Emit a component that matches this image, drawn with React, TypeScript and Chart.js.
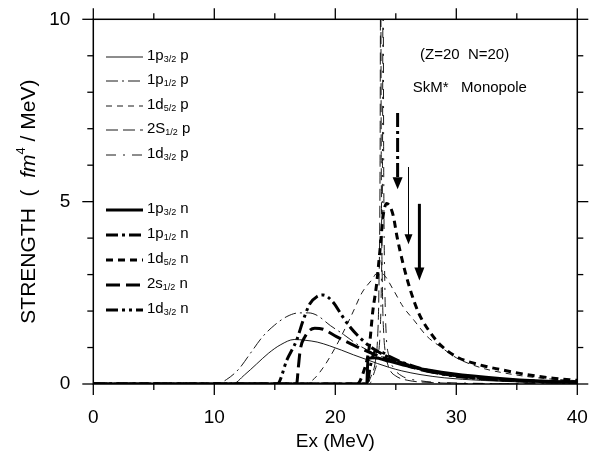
import { useEffect, useRef } from 'react';
import { Chart, registerables } from 'chart.js';

Chart.register(...registerables);

const FONT = '"Liberation Sans", Arial, Helvetica, sans-serif';

// ---- axes ----
const xLimits = [0, 40];
const yLimits = [0, 10];
const xMajorTicks = [0, 10, 20, 30, 40];
const xMinorTicks = [5, 15, 25, 35];
const yMajorTicks = [0, 5, 10];
const yMinorTicks = [1, 2, 3, 4, 6, 7, 8, 9];
const xTitle = 'Ex (MeV)';

// ---- proton strengths (thin lines) ----
const p1p32X = [0, 11.5, 12.5, 13.5, 14.5, 15.5, 16.6, 17.5, 18.5, 19.5, 20.5, 21.5, 22.5, 23.5, 24.5, 25.5, 27, 29, 32, 36, 40];
const p1p32Y = [0, 0, 0.25, 0.55, 0.85, 1.08, 1.22, 1.2, 1.15, 1.05, 0.93, 0.8, 0.68, 0.56, 0.45, 0.36, 0.26, 0.17, 0.1, 0.05, 0.03];

const p1p12X = [0, 10.2, 11, 12, 13, 14, 15, 16, 17, 17.8, 18.5, 19.6, 20.5, 22, 23.5, 24.8, 26, 27.5, 29, 31, 34, 37, 40];
const p1p12Y = [0, 0, 0.12, 0.4, 0.85, 1.3, 1.62, 1.85, 1.95, 1.95, 1.88, 1.6, 1.4, 1.05, 0.8, 0.62, 0.48, 0.35, 0.25, 0.16, 0.09, 0.05, 0.03];

const p1d52X = [0, 17.3, 18.1, 19, 20, 21, 21.5, 22.2, 23, 23.5, 24, 24.8, 25.6, 26.5, 27.6, 28.7, 30, 32, 34, 37, 40];
const p1d52Y = [0, 0, 0.1, 0.45, 1.0, 1.65, 2.0, 2.5, 2.85, 3.05, 3.0, 2.58, 2.12, 1.75, 1.3, 1.02, 0.72, 0.45, 0.3, 0.16, 0.09];

const p2s12X = [0, 22.6, 23.0, 23.3, 23.5, 23.6, 23.7, 23.75, 23.8, 23.9, 24.0, 24.2, 24.5, 25, 26, 28, 32, 40];
const p2s12Y = [0, 0, 0.25, 0.6, 1.3, 2.5, 6, 12, 6, 2.5, 1.4, 0.75, 0.4, 0.22, 0.1, 0.04, 0.01, 0];

const p1d32X = [0, 22.8, 23.2, 23.5, 23.7, 23.8, 23.9, 23.95, 24.0, 24.1, 24.2, 24.4, 24.8, 25.5, 27, 30, 40];
const p1d32Y = [0, 0, 0.3, 0.7, 1.4, 2.6, 6, 12, 6, 2.6, 1.4, 0.8, 0.45, 0.22, 0.09, 0.03, 0];

// ---- neutron strengths (thick lines) ----
const n1p32X = [0, 22.6, 22.7, 23.2, 24.5, 26.4, 29.7, 33.6, 37, 40];
const n1p32Y = [0, 0, 0.7, 0.72, 0.62, 0.46, 0.28, 0.15, 0.08, 0.05];

const n1p12X = [0, 22.6, 22.9, 23.3, 23.8, 24.5, 25.5, 27, 29, 32, 36, 40];
const n1p12Y = [0, 0, 0.5, 0.9, 0.88, 0.75, 0.6, 0.43, 0.28, 0.16, 0.08, 0.04];

const n1d52X = [0, 21.8, 22.3, 22.8, 23.1, 23.4, 23.7, 23.95, 24.25, 24.55, 24.8, 25.1, 25.6, 26.2, 26.9, 27.7, 28.7, 30.0, 32.0, 33.6, 35.8, 38.0, 40];
const n1d52Y = [0, 0, 0.3, 1.0, 2.0, 2.7, 3.7, 4.6, 4.95, 4.85, 4.6, 4.04, 3.3, 2.58, 1.94, 1.48, 1.07, 0.75, 0.52, 0.4, 0.26, 0.16, 0.1];

const n2s12X = [0, 16.8, 16.95, 17.1, 17.5, 18.3, 19.0, 20.1, 21.8, 23.7, 25.1, 27.0, 30.3, 35, 40];
const n2s12Y = [0, 0, 0.47, 0.93, 1.3, 1.53, 1.5, 1.3, 1.02, 0.75, 0.61, 0.4, 0.22, 0.1, 0.05];

const n1d32X = [0, 15.2, 16.0, 16.8, 17.35, 17.9, 18.5, 19.0, 19.8, 20.5, 21.2, 22.0, 22.9, 24.0, 25.6, 27.6, 30.3, 34.4, 40];
const n1d32Y = [0, 0, 0.66, 1.2, 1.75, 2.2, 2.4, 2.44, 2.25, 1.9, 1.57, 1.28, 1.02, 0.8, 0.57, 0.36, 0.2, 0.1, 0.04];

// ---- legend labels ----
const legendMain = ['1p', '1p', '1d', '2S', '1d', '1p', '1p', '1d', '2s', '1d'];
const legendSub = ['3/2', '1/2', '5/2', '1/2', '3/2', '3/2', '1/2', '5/2', '1/2', '3/2'];
const legendTail = ['p', 'p', 'p', 'p', 'p', 'n', 'n', 'n', 'n', 'n'];

// ---- arrows (centroid energies) ----
const arrowX = [25.15, 26.05, 26.95];
const arrowFrom = [7.43, 5.95, 4.94];
const arrowTo = [5.34, 3.83, 2.84];

// ---- annotations ----
const noteText = ['(Z=20  N=20)', 'SkM*   Monopole'];
const noteX = [27.0, 26.4];
const noteY = [9.02, 8.12];

// ---- styles ----
const THIN = 0.9;
const THICK = 3;
const seriesX = [p1p32X, p1p12X, p1d52X, p2s12X, p1d32X, n1p32X, n1p12X, n1d52X, n2s12X, n1d32X];
const seriesY = [p1p32Y, p1p12Y, p1d52Y, p2s12Y, p1d32Y, n1p32Y, n1p12Y, n1d52Y, n2s12Y, n1d32Y];
const seriesWidth = [THIN, THIN, THIN, THIN, THIN, THICK, THICK, THICK, THICK, THICK];
const seriesDash = [
  [],
  [12, 4, 2, 4],
  [6, 5],
  [12, 5],
  [10, 7, 2, 7],
  [],
  [12, 4, 3, 4],
  [7, 5],
  [14, 6],
  [12, 4, 3, 4, 3, 4],
];
const arrowWidth = [THICK, 1, THICK];
const arrowDash = [[14, 4, 3, 4], [], []];
const arrowHead = [[10, 12], [8, 10], [10, 13]];

const legendRows = [57, 81, 106, 130, 155, 210, 235, 260, 285, 310];

const legendPlugin = {
  id: 'customLegend',
  afterDatasetsDraw(chart: any) {
    const ctx = chart.ctx;
    ctx.save();
    legendRows.forEach((ry, i) => {
      ctx.strokeStyle = '#000';
      ctx.lineWidth = seriesWidth[i];
      ctx.setLineDash(seriesDash[i]);
      ctx.beginPath();
      ctx.moveTo(106, ry);
      ctx.lineTo(143, ry);
      ctx.stroke();
      ctx.setLineDash([]);
      ctx.fillStyle = '#000';
      ctx.textBaseline = 'alphabetic';
      ctx.textAlign = 'left';
      let x = 147;
      ctx.font = `15px ${FONT}`;
      ctx.fillText(legendMain[i], x, ry + 3);
      x += ctx.measureText(legendMain[i]).width;
      ctx.font = `9px ${FONT}`;
      ctx.fillText(legendSub[i], x, ry + 5);
      x += ctx.measureText(legendSub[i]).width;
      ctx.font = `15px ${FONT}`;
      ctx.fillText(' ' + legendTail[i], x, ry + 3);
    });
    ctx.restore();
  },
};

const arrowPlugin = {
  id: 'arrows',
  afterDatasetsDraw(chart: any) {
    const { ctx, scales } = chart;
    const xs = scales.x;
    const ys = scales.y;
    ctx.save();
    arrowX.forEach((v, i) => {
      const px = xs.getPixelForValue(v);
      const top = ys.getPixelForValue(arrowFrom[i]);
      const tip = ys.getPixelForValue(arrowTo[i]);
      const [hw, hh] = arrowHead[i];
      ctx.strokeStyle = '#000';
      ctx.fillStyle = '#000';
      ctx.lineWidth = arrowWidth[i];
      ctx.setLineDash(arrowDash[i]);
      ctx.beginPath();
      ctx.moveTo(px, top);
      ctx.lineTo(px, tip - hh + 1);
      ctx.stroke();
      ctx.setLineDash([]);
      ctx.beginPath();
      ctx.moveTo(px - hw / 2, tip - hh);
      ctx.lineTo(px + hw / 2, tip - hh);
      ctx.lineTo(px, tip);
      ctx.closePath();
      ctx.fill();
    });
    ctx.restore();
  },
};

const framePlugin = {
  id: 'frameTicks',
  afterDraw(chart: any) {
    const { ctx, chartArea: a, scales } = chart;
    const xs = scales.x;
    const ys = scales.y;
    ctx.save();
    ctx.strokeStyle = '#000';
    ctx.setLineDash([]);
    ctx.lineWidth = 1.5;
    ctx.strokeRect(a.left, a.top, a.right - a.left, a.bottom - a.top);
    ctx.lineWidth = 1.3;
    const seg = (x1: number, y1: number, x2: number, y2: number) => {
      ctx.beginPath();
      ctx.moveTo(x1, y1);
      ctx.lineTo(x2, y2);
      ctx.stroke();
    };
    const xt = (v: number, len: number) => {
      const p = xs.getPixelForValue(v);
      seg(p, a.bottom, p, a.bottom + len);
      seg(p, a.top, p, a.top - len);
    };
    const yt = (v: number, len: number) => {
      const p = ys.getPixelForValue(v);
      seg(a.left, p, a.left - len, p);
      seg(a.right, p, a.right + len, p);
    };
    xMajorTicks.forEach((v) => xt(v, 11));
    xMinorTicks.forEach((v) => xt(v, 6));
    yMajorTicks.forEach((v) => yt(v, 11));
    yMinorTicks.forEach((v) => yt(v, 6));

    // annotations
    ctx.fillStyle = '#000';
    ctx.font = `15px ${FONT}`;
    ctx.textAlign = 'left';
    ctx.textBaseline = 'middle';
    noteText.forEach((t, i) => {
      ctx.fillText(t, xs.getPixelForValue(noteX[i]), ys.getPixelForValue(noteY[i]));
    });

    // y-axis title
    ctx.save();
    ctx.translate(29, (a.top + a.bottom) / 2);
    ctx.rotate(-Math.PI / 2);
    const parts = [
      { t: 'STRENGTH  (  ', f: `21px ${FONT}`, dy: 0 },
      { t: 'fm', f: `italic 21px ${FONT}`, dy: 0 },
      { t: '4', f: `13px ${FONT}`, dy: -8 },
      { t: ' / MeV)', f: `21px ${FONT}`, dy: 0 },
    ];
    let total = 0;
    parts.forEach((p) => {
      ctx.font = p.f;
      total += ctx.measureText(p.t).width;
    });
    let x = -total / 2;
    ctx.textBaseline = 'middle';
    parts.forEach((p) => {
      ctx.font = p.f;
      ctx.fillText(p.t, x, p.dy);
      x += ctx.measureText(p.t).width;
    });
    ctx.restore();
    ctx.restore();
  },
};

export default function App() {
  const ref = useRef<HTMLCanvasElement | null>(null);
  useEffect(() => {
    if (!ref.current) return;
    const datasets = seriesX.map((xsArr, i) => ({
      label: legendMain[i] + legendSub[i] + ' ' + legendTail[i],
      data: xsArr.map((x, j) => ({ x, y: seriesY[i][j] })),
      borderColor: '#000',
      borderWidth: seriesWidth[i],
      borderDash: seriesDash[i],
      pointRadius: 0,
      fill: false,
      cubicInterpolationMode: 'monotone' as const,
    }));
    const chart = new Chart(ref.current, {
      type: 'line',
      data: { datasets },
      options: {
        animation: false,
        responsive: false,
        devicePixelRatio: 1,
        layout: { padding: { top: 19.3, right: 20.7, left: 0, bottom: 0 } },
        plugins: { legend: { display: false }, tooltip: { enabled: false }, title: { display: false } },
        scales: {
          x: {
            type: 'linear',
            position: 'bottom',
            min: xLimits[0],
            max: xLimits[1],
            afterBuildTicks: (s: any) => {
              s.ticks = xMajorTicks.map((v) => ({ value: v }));
            },
            ticks: { font: { size: 19, family: FONT }, color: '#000', padding: 22, maxRotation: 0, autoSkip: false },
            grid: { display: false, drawTicks: false },
            border: { display: false },
            title: { display: true, text: xTitle, color: '#000', font: { size: 19, family: FONT }, padding: { top: 7, bottom: 7 } },
            afterFit: (s: any) => {
              s.height = 76;
              s.paddingLeft = 0;
              s.paddingRight = 0;
            },
          },
          y: {
            type: 'linear',
            position: 'left',
            min: yLimits[0],
            max: yLimits[1],
            afterBuildTicks: (s: any) => {
              s.ticks = yMajorTicks.map((v) => ({ value: v }));
            },
            ticks: { font: { size: 19, family: FONT }, color: '#000', padding: 23 },
            grid: { display: false, drawTicks: false },
            border: { display: false },
            afterFit: (s: any) => {
              s.width = 93.3;
              s.paddingTop = 0;
              s.paddingBottom = 0;
            },
          },
        },
      } as any,
      plugins: [legendPlugin, arrowPlugin, framePlugin],
    });
    return () => chart.destroy();
  }, []);
  return (
    <div style={{ position: 'absolute', left: 0, top: 0, width: 598, height: 460, background: '#fff' }}>
      <canvas ref={ref} width={598} height={460} style={{ display: 'block' }} />
    </div>
  );
}
